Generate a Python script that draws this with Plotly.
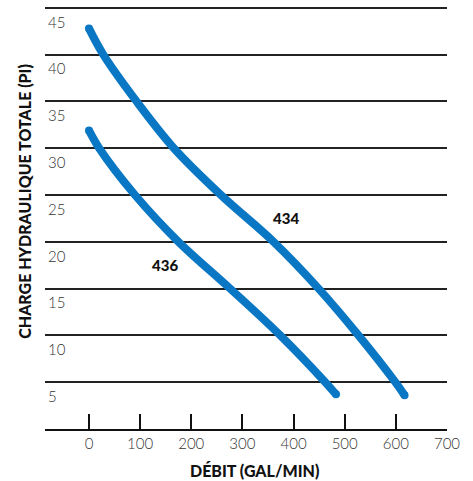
import plotly.graph_objects as go

# Pump curves
flow_434 = [0, 28, 93, 166, 258, 361, 449, 527, 599, 617]
head_434 = [42.8, 40, 35, 30, 25, 20, 15, 10, 5, 3.6]
flow_436 = [0, 20, 90, 175, 276, 374, 462, 483]
head_436 = [31.9, 30, 25, 20, 15, 10, 5, 3.7]

x_ticks = [0, 100, 200, 300, 400, 500, 600, 700]
y_ticks = [5, 10, 15, 20, 25, 30, 35, 40, 45]

labels = ["434", "436"]
label_x = [385, 149]
label_y = [22.5, 17.5]

x_title = "DÉBIT (GAL/MIN)"
y_title = "CHARGE HYDRAULIQUE TOTALE (PI)"

blue = "#0a77c4"
fig = go.Figure()
for fx, hy in [(flow_434, head_434), (flow_436, head_436)]:
    fig.add_trace(go.Scatter(x=fx, y=hy, mode="lines",
                             line=dict(color=blue, width=8, shape="spline", smoothing=1.0),
                             hoverinfo="skip", showlegend=False))
    # round caps at the curve ends
    fig.add_trace(go.Scatter(x=[fx[0], fx[-1]], y=[hy[0], hy[-1]], mode="markers",
                             marker=dict(color=blue, size=8, line=dict(width=0)),
                             hoverinfo="skip", showlegend=False))

for t, xx, yy in zip(labels, label_x, label_y):
    fig.add_annotation(x=xx, y=yy, text=t, showarrow=False,
                       font=dict(family="Lato", size=15, color="#111", weight=900))

title_font = dict(family="Lato", size=16, color="#111", weight=900)
fig.add_annotation(xref="paper", yref="paper", x=0.522, y=-0.097, text=x_title,
                   showarrow=False, xanchor="center", yanchor="middle", font=title_font)
fig.add_annotation(xref="paper", yref="paper", x=-0.05, y=0.538, text=y_title,
                   textangle=-90, showarrow=False, xanchor="center", yanchor="middle",
                   font=title_font)

fig.update_layout(
    width=473, height=481,
    margin=dict(l=45, r=26, t=5, b=52),
    paper_bgcolor="white", plot_bgcolor="white",
    font=dict(family="Lato", size=15, color="#333"),
    showlegend=False,
)
fig.update_xaxes(range=[-86, 700], tickvals=x_ticks, ticks="inside", ticklen=15,
                 tickwidth=1.5, tickcolor="#111", showgrid=False, zeroline=False,
                 showline=True, linecolor="#111", linewidth=1.5,
                 tickfont=dict(size=15, color="#333", weight=300))
fig.update_yaxes(range=[0, 45.3], tickvals=y_ticks, ticks="", showgrid=True,
                 gridcolor="#222", gridwidth=1.5, zeroline=False, showline=False,
                 ticklabelposition="inside bottom", ticklabelstandoff=0, ticklabelshift=4,
                 tickfont=dict(size=15, color="#333", weight=300))

fig.write_html("out.html", config={"displayModeBar": False},
               post_script="document.body.style.margin='0';")
